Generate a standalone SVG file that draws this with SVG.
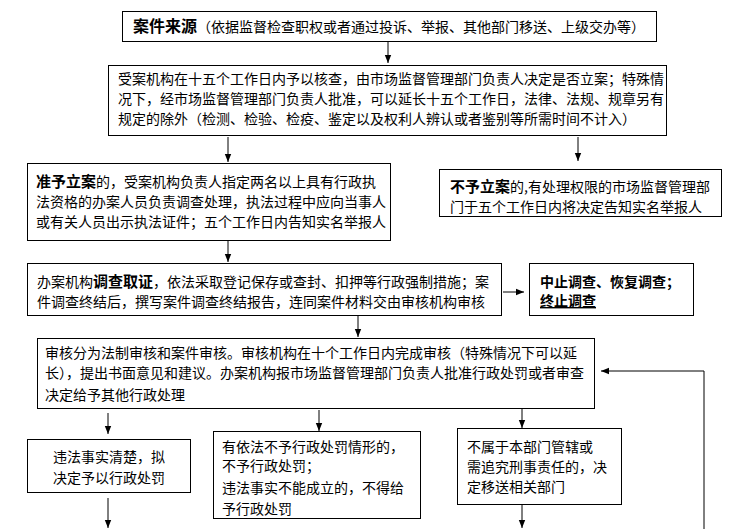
<svg xmlns="http://www.w3.org/2000/svg" width="734" height="529" viewBox="0 0 734 529">
<style>
  .box { fill: #ffffff; stroke: #000000; stroke-width: 1; }
  .t { font-family: "Noto Sans CJK SC", "Noto Sans", sans-serif; font-size: 14px; fill: #000000; }
  .b { font-weight: bold; font-size: 15px; }
  .conn line, .conn polyline { stroke: #000000; stroke-width: 1; fill: none; }
</style>
<defs>
  <marker id="ah" viewBox="0 0 8 8" refX="8" refY="4" markerWidth="8" markerHeight="8" markerUnits="userSpaceOnUse" orient="auto">
    <path d="M0,0.8 L8,4 L0,7.2 Z" fill="#000000"/>
  </marker>
</defs>
<rect width="734" height="529" fill="#ffffff"/>

<g id="connectors" class="conn">
  <line x1="388" y1="42" x2="388" y2="63" marker-end="url(#ah)"/>
  <line x1="228" y1="137" x2="228" y2="162" marker-end="url(#ah)"/>
  <line x1="578" y1="137" x2="578" y2="161" marker-end="url(#ah)"/>
  <line x1="228" y1="241" x2="228" y2="262" marker-end="url(#ah)"/>
  <line x1="503" y1="292" x2="524" y2="292" marker-end="url(#ah)"/>
  <line x1="358" y1="316" x2="358" y2="337" marker-end="url(#ah)"/>
  <line x1="108" y1="413" x2="108" y2="434" marker-end="url(#ah)"/>
  <line x1="319" y1="410" x2="319" y2="431" marker-end="url(#ah)"/>
  <line x1="522" y1="409" x2="522" y2="428" marker-end="url(#ah)"/>
  <line x1="108" y1="498" x2="108" y2="528" marker-end="url(#ah)"/>
  <line x1="522" y1="505" x2="522" y2="528" marker-end="url(#ah)"/>
  <polyline points="704,529 704,371 601,371" marker-end="url(#ah)"/>
</g>

<g id="source">
  <rect class="box" x="122.5" y="11.5" width="534" height="30"/>
  <text class="t" x="133" y="32"><tspan class="b" style="font-size:16px">案件来源</tspan>（依据监督检查职权或者通过投诉、举报、其他部门移送、上级交办等）</text>
</g>

<g id="verify">
  <rect class="box" x="108.5" y="65.5" width="558" height="70"/>
  <text class="t" x="118" y="84">受案机构在十五个工作日内予以核查，由市场监督管理部门负责人决定是否立案；特殊情</text>
  <text class="t" x="118" y="104">况下，经市场监督管理部门负责人批准，可以延长十五个工作日，法律、法规、规章另有</text>
  <text class="t" x="118" y="124">规定的除外（检测、检验、检疫、鉴定以及权利人辨认或者鉴别等所需时间不计入）</text>
</g>

<g id="accept">
  <rect class="box" x="27.5" y="163.5" width="363" height="77"/>
  <text class="t" x="36" y="187"><tspan class="b">准予立案</tspan>的，受案机构负责人指定两名以上具有行政执</text>
  <text class="t" x="36" y="207">法资格的办案人员负责调查处理，执法过程中应向当事人</text>
  <text class="t" x="36" y="227">或有关人员出示执法证件；五个工作日内告知实名举报人</text>
</g>

<g id="reject">
  <rect class="box" x="439.5" y="169.5" width="282" height="47"/>
  <text class="t" x="450" y="192"><tspan class="b">不予立案</tspan>的,有处理权限的市场监督管理部</text>
  <text class="t" x="450" y="212">门于五个工作日内将决定告知实名举报人</text>
</g>

<g id="investigate">
  <rect class="box" x="27.5" y="263.5" width="474" height="52"/>
  <text class="t" x="37" y="287">办案机构<tspan class="b">调查取证</tspan>，依法采取登记保存或查封、扣押等行政强制措施；案</text>
  <text class="t" x="37" y="307">件调查终结后，撰写案件调查终结报告，连同案件材料交由审核机构审核</text>
</g>

<g id="suspend">
  <rect class="box" x="529.5" y="263.5" width="164" height="52"/>
  <text class="t" x="540" y="287" style="font-weight:bold">中止调查、恢复调查；</text>
  <text class="t" x="540" y="306" style="font-weight:bold;text-decoration:underline">终止调查</text>
</g>

<g id="review">
  <rect class="box" x="37.5" y="338.5" width="557" height="70"/>
  <text class="t" x="45" y="358">审核分为法制审核和案件审核。审核机构在十个工作日内完成审核（特殊情况下可以延</text>
  <text class="t" x="45" y="378">长），提出书面意见和建议。办案机构报市场监督管理部门负责人批准行政处罚或者审查</text>
  <text class="t" x="45" y="400">决定给予其他行政处理</text>
</g>

<g id="punish">
  <rect class="box" x="27.5" y="439.5" width="163" height="53"/>
  <text class="t" x="109" y="462" text-anchor="middle">违法事实清楚，拟</text>
  <text class="t" x="109" y="483" text-anchor="middle">决定予以行政处罚</text>
</g>

<g id="nopunish">
  <rect class="box" x="213.5" y="431.5" width="207" height="87"/>
  <text class="t" x="222" y="452">有依法不予行政处罚情形的，</text>
  <text class="t" x="222" y="471">不予行政处罚；</text>
  <text class="t" x="222" y="493">违法事实不能成立的，不得给</text>
  <text class="t" x="222" y="514">予行政处罚</text>
</g>

<g id="transfer">
  <rect class="box" x="457.5" y="428.5" width="164" height="76"/>
  <text class="t" x="467" y="452">不属于本部门管辖或</text>
  <text class="t" x="467" y="472">需追究刑事责任的，决</text>
  <text class="t" x="467" y="492">定移送相关部门</text>
</g>
</svg>
